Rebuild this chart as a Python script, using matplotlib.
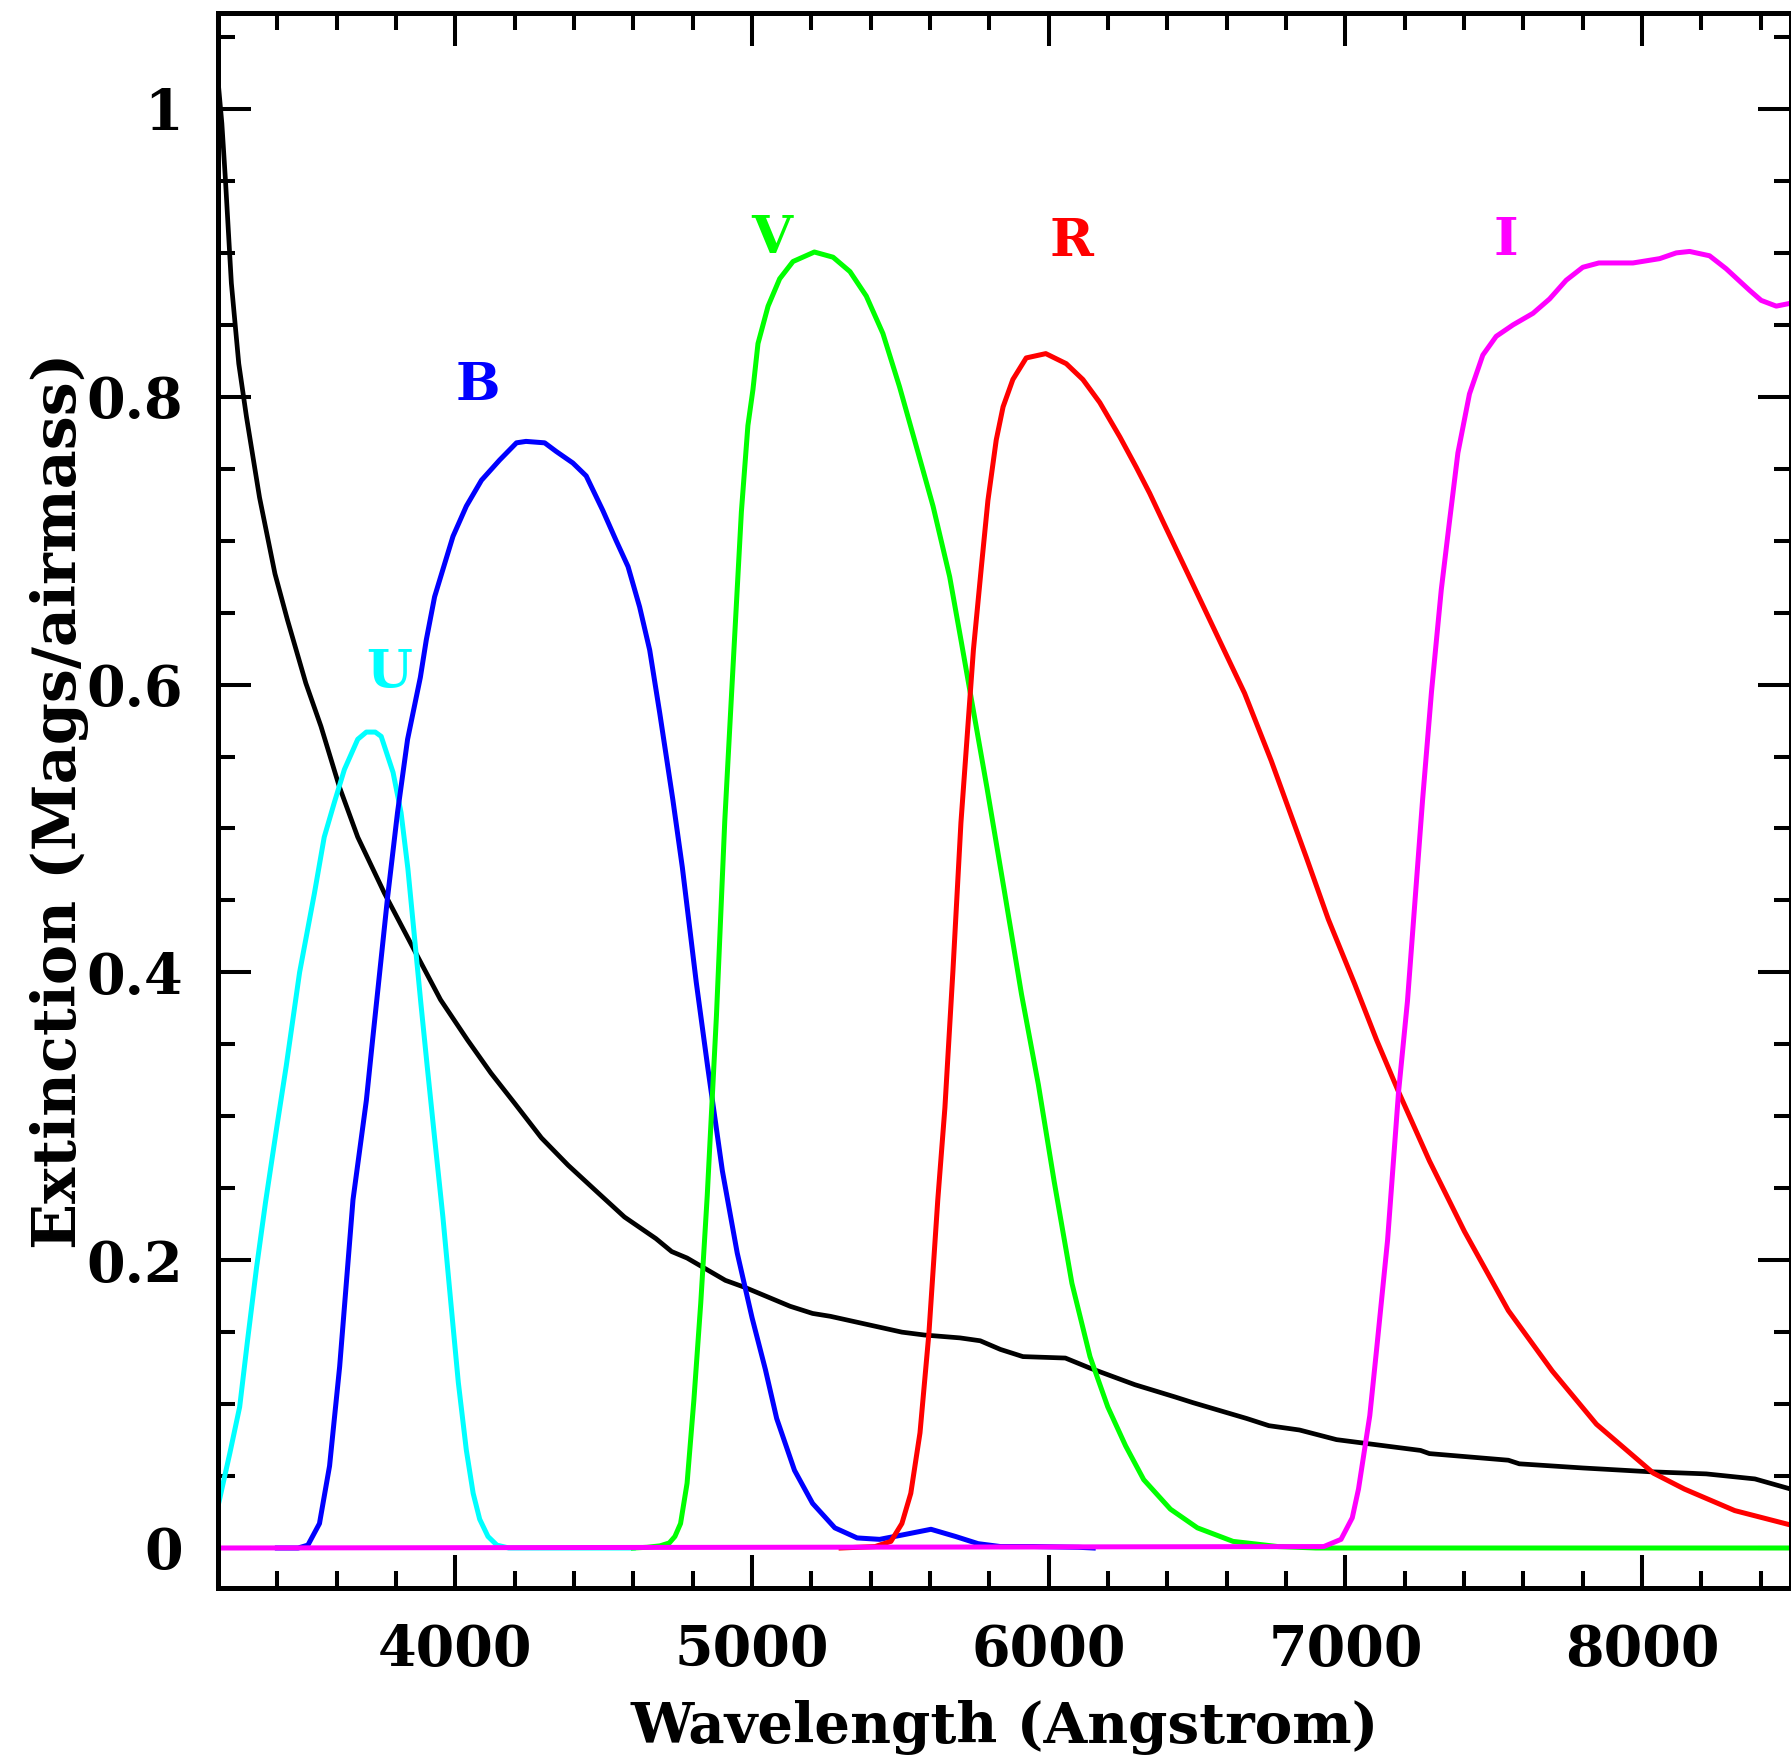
import matplotlib
matplotlib.use('Agg')
import matplotlib.pyplot as plt
from matplotlib.ticker import MultipleLocator, FuncFormatter

# atmospheric extinction (mags/airmass)
ext_wave = [3200, 3213, 3225, 3245, 3270, 3296, 3340, 3392, 3434, 3496, 3547, 3609, 3671,
            3761, 3873, 3950, 4041, 4120, 4200, 4290, 4380, 4480, 4570, 4676, 4729, 4781,
            4910, 4977, 5128, 5204, 5264, 5505, 5581, 5701, 5769, 5837, 5913, 6056, 6139,
            6290, 6425, 6486, 6667, 6742, 6845, 6970, 7253, 7283, 7549, 7586, 7801, 8024,
            8216, 8380, 8500]
ext_mag = [1.02, 0.99, 0.951, 0.879, 0.823, 0.786, 0.730, 0.677, 0.645, 0.601, 0.571, 0.529,
           0.494, 0.455, 0.411, 0.381, 0.353, 0.330, 0.309, 0.285, 0.266, 0.247, 0.230, 0.215,
           0.206, 0.2015, 0.186, 0.181, 0.168, 0.163, 0.161, 0.150, 0.148, 0.146, 0.144, 0.138,
           0.133, 0.132, 0.125, 0.1135, 0.105, 0.101, 0.090, 0.085, 0.082, 0.0753, 0.0678,
           0.0656, 0.061, 0.0585, 0.0556, 0.053, 0.0515, 0.048, 0.041]

# filter transmission curves
u_wave = [3200, 3240, 3273, 3300, 3330, 3360, 3400, 3430, 3475, 3525, 3558, 3592, 3626, 3671,
          3700, 3730, 3750, 3790, 3817, 3840, 3862, 3884, 3905, 3930, 3958, 3985, 4010, 4037,
          4060, 4082, 4110, 4140, 4180, 4600]
u_trans = [0.029, 0.066, 0.098, 0.145, 0.195, 0.240, 0.295, 0.335, 0.400, 0.455, 0.494, 0.518,
           0.541, 0.562, 0.567, 0.567, 0.564, 0.539, 0.511, 0.472, 0.425, 0.378, 0.335, 0.285,
           0.230, 0.170, 0.115, 0.068, 0.038, 0.020, 0.008, 0.002, 0.0, 0.0]

b_wave = [3400, 3470, 3503, 3542, 3576, 3610, 3655, 3700, 3721, 3772, 3805, 3839, 3882, 3902,
          3930, 3958, 3992, 4037, 4088, 4149, 4206, 4238, 4301, 4340, 4396, 4441, 4497, 4542,
          4582, 4621, 4655, 4689, 4733, 4765, 4812, 4850, 4900, 4950, 5000, 5045, 5083, 5143,
          5204, 5279, 5354, 5430, 5505, 5603, 5686, 5762, 5837, 5950, 6100, 6150]
b_trans = [0.0, 0.0, 0.002, 0.017, 0.057, 0.126, 0.242, 0.311, 0.353, 0.453, 0.511, 0.562,
           0.605, 0.631, 0.661, 0.680, 0.703, 0.724, 0.742, 0.756, 0.768, 0.769, 0.768, 0.762,
           0.754, 0.745, 0.721, 0.700, 0.682, 0.654, 0.624, 0.580, 0.520, 0.473, 0.393, 0.335,
           0.262, 0.205, 0.160, 0.124, 0.090, 0.054, 0.031, 0.014, 0.007, 0.006, 0.009, 0.013,
           0.008, 0.003, 0.001, 0.001, 0.0005, 0.0]

v_wave = [4600, 4646, 4690, 4721, 4740, 4759, 4781, 4804, 4827, 4849, 4880, 4908, 4930, 4947,
          4964, 4986, 5003, 5020, 5054, 5093, 5138, 5210, 5273, 5330, 5385, 5441, 5497, 5553,
          5610, 5666, 5705, 5792, 5850, 5908, 5965, 6018, 6078, 6139, 6199, 6259, 6320, 6410,
          6501, 6621, 6772, 6900, 8500]
v_trans = [0.0, 0.0005, 0.0015, 0.0035, 0.008, 0.017, 0.045, 0.103, 0.170, 0.245, 0.370, 0.505,
           0.590, 0.655, 0.720, 0.780, 0.805, 0.837, 0.863, 0.882, 0.894, 0.9006, 0.897, 0.887,
           0.870, 0.844, 0.807, 0.766, 0.724, 0.675, 0.630, 0.528, 0.457, 0.385, 0.322, 0.255,
           0.184, 0.133, 0.098, 0.071, 0.0475, 0.027, 0.014, 0.0046, 0.001, 0.0, 0.0]

r_wave = [5300, 5415, 5468, 5505, 5535, 5566, 5596, 5626, 5650, 5677, 5704, 5746, 5773, 5795,
          5823, 5846, 5879, 5924, 5990, 6059, 6115, 6172, 6240, 6295, 6340, 6388, 6485, 6600,
          6660, 6750, 6868, 6942, 7031, 7105, 7179, 7283, 7401, 7549, 7697, 7846, 8038, 8142,
          8312, 8500]
r_trans = [0.0, 0.001, 0.0046, 0.017, 0.038, 0.080, 0.149, 0.242, 0.306, 0.401, 0.504, 0.624,
           0.682, 0.728, 0.770, 0.793, 0.812, 0.827, 0.830, 0.823, 0.812, 0.796, 0.772, 0.751,
           0.733, 0.712, 0.670, 0.620, 0.594, 0.547, 0.480, 0.437, 0.392, 0.353, 0.317, 0.269,
           0.220, 0.165, 0.123, 0.086, 0.052, 0.041, 0.026, 0.016]

i_wave = [3200, 6927, 6985, 7023, 7044, 7082, 7105, 7142, 7179, 7209, 7260, 7290, 7323, 7351,
          7379, 7418, 7463, 7508, 7565, 7632, 7688, 7744, 7800, 7854, 7969, 8059, 8115, 8160,
          8227, 8283, 8362, 8401, 8452, 8500]
i_trans = [0.0, 0.001, 0.006, 0.021, 0.041, 0.092, 0.138, 0.214, 0.317, 0.380, 0.520, 0.595,
           0.666, 0.714, 0.761, 0.802, 0.829, 0.842, 0.850, 0.858, 0.868, 0.881, 0.890, 0.893,
           0.893, 0.896, 0.900, 0.901, 0.898, 0.889, 0.874, 0.867, 0.863, 0.865]

band_names = ['U', 'B', 'V', 'R', 'I']
band_colors = ['#00ffff', '#0000ff', '#00ff00', '#ff0000', '#ff00ff']
label_x = [3778, 4077, 5065, 6076, 7540]
label_y = [0.5985, 0.798, 0.8997, 0.898, 0.8985]

fig = plt.figure(figsize=(17.91, 17.62), dpi=100)
ax = fig.add_axes([218 / 1791, 1 - 1588 / 1762, 1572.5 / 1791, 1575 / 1762])

ax.plot(ext_wave, ext_mag, color='black', lw=3.4, solid_joinstyle='round')
bands = [(u_wave, u_trans), (b_wave, b_trans), (v_wave, v_trans),
         (r_wave, r_trans), (i_wave, i_trans)]
for (w, t), c in zip(bands, band_colors):
    ax.plot(w, t, color=c, lw=3.6, solid_joinstyle='round')

for name, c, x, y in zip(band_names, band_colors, label_x, label_y):
    ax.text(x, y, name, color=c, ha='center', va='baseline',
            family='DejaVu Serif', weight='bold', fontsize=38)

ax.set_xlim(3200, 8500)
ax.set_ylim(-0.0278, 1.0667)

ax.xaxis.set_major_locator(MultipleLocator(1000))
ax.xaxis.set_minor_locator(MultipleLocator(200))
ax.yaxis.set_major_locator(MultipleLocator(0.2))
ax.yaxis.set_minor_locator(MultipleLocator(0.05))
ax.yaxis.set_major_formatter(FuncFormatter(lambda v, p: '%g' % round(v, 2)))

ax.tick_params(which='both', direction='in', top=True, right=True, width=2.9,
               labelsize=40, pad=25)
ax.tick_params(which='major', length=24)
ax.tick_params(which='minor', length=12.5)
for lab in ax.get_xticklabels() + ax.get_yticklabels():
    lab.set_family('DejaVu Serif')
    lab.set_weight('bold')

for sp in ax.spines.values():
    sp.set_linewidth(3.6)

ax.set_xlabel('Wavelength (Angstrom)', family='DejaVu Serif', weight='bold', fontsize=40.5)
ax.set_ylabel('Extinction (Mags/airmass)', family='DejaVu Serif', weight='bold', fontsize=43.5)
ax.xaxis.set_label_coords(0.5, -0.071)
ax.yaxis.set_label_coords(-0.082, 0.5)

fig.savefig('out.png', dpi=100)
